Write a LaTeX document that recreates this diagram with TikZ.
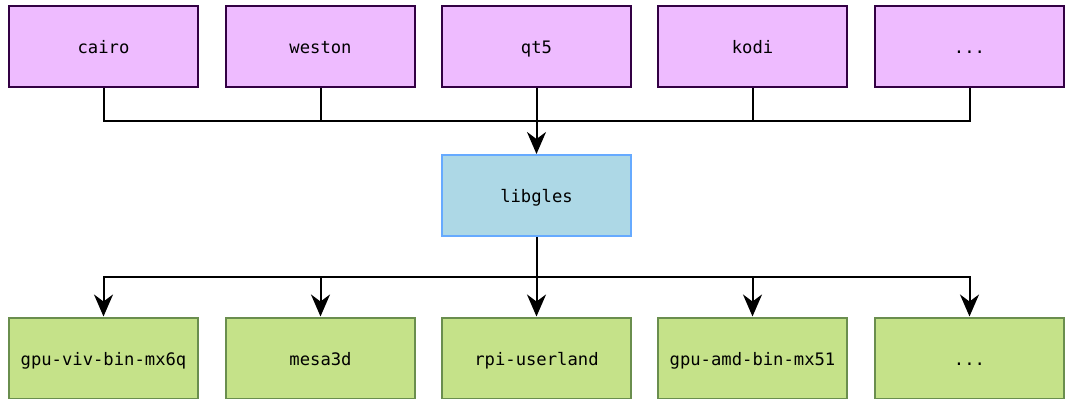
\documentclass[tikz,border=0pt]{standalone}
\usepackage{fontspec}
\setmonofont{DejaVu Sans Mono}
\usetikzlibrary{arrows.meta}
\definecolor{topfill}{HTML}{EEBBFF}
\definecolor{topdraw}{HTML}{330044}
\definecolor{midfill}{HTML}{ADD8E6}
\definecolor{middraw}{HTML}{66AAFF}
\definecolor{botfill}{HTML}{C5E289}
\definecolor{botdraw}{HTML}{6A8E4E}
\tikzset{
  box/.style={rectangle, minimum width=189pt, minimum height=81pt, line width=2pt, inner sep=0pt,
    text height=14pt, text depth=0pt,
    font=\fontsize{17.2}{20}\selectfont\ttfamily},
  topbox/.style={box, fill=topfill, draw=topdraw},
  midbox/.style={box, fill=midfill, draw=middraw},
  botbox/.style={box, fill=botfill, draw=botdraw},
  conn/.style={line width=2pt, black},
  arr/.style={conn, -{Stealth[length=22pt,width=19pt,inset=7pt]}}
}
\begin{document}
\begin{tikzpicture}[x=1pt,y=-1pt]
\useasboundingbox (0,0) rectangle (1066,399);
\node[topbox] (cairo) at (103.5,46.5) {cairo};
\node[topbox] (weston) at (320.5,46.5) {weston};
\node[topbox] (qt5) at (536.5,46.5) {qt5};
\node[topbox] (kodi) at (752.5,46.5) {kodi};
\node[topbox] (tdots) at (969.5,46.5) {...};
\node[midbox] (libgles) at (536.5,195.5) {libgles};
\node[botbox] (viv) at (103.5,358) {gpu-viv-bin-mx6q};
\node[botbox] (mesa) at (320.5,358) {mesa3d};
\node[botbox] (rpi) at (536.5,358) {rpi-userland};
\node[botbox] (amd) at (752.5,358) {gpu-amd-bin-mx51};
\node[botbox] (bdots) at (969.5,358) {...};
\coordinate (jt) at (536.5,121);
\coordinate (jb) at (536.5,277);
\draw[conn] (cairo.south) |- (jt);
\draw[conn] (weston.south) |- (jt);
\draw[conn] (kodi.south) |- (jt);
\draw[conn] (tdots.south) |- (jt);
\draw[arr] (qt5.south) -- (libgles.north);
\draw[arr] (libgles.south) -- (jb) -| (viv.north);
\draw[arr] (jb) -| (mesa.north);
\draw[arr] (jb) -- (rpi.north);
\draw[arr] (jb) -| (amd.north);
\draw[arr] (jb) -| (bdots.north);
\end{tikzpicture}
\end{document}
